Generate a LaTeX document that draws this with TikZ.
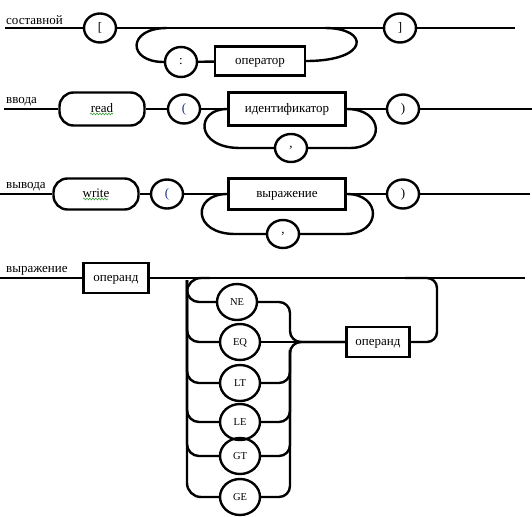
\documentclass[tikz,border=0pt]{standalone}
\usepackage{fontspec}
\setmainfont{Liberation Serif}
\usetikzlibrary{decorations.pathmorphing,shapes.geometric}
\definecolor{brk}{RGB}{25,45,130}
\definecolor{spell}{RGB}{60,160,60}
\begin{document}
\begin{tikzpicture}[x=1pt,y=-1pt,
  rail/.style={line width=2.4pt},
  lbl/.style={font=\fontsize{13}{15}\selectfont, inner sep=1pt, anchor=south west},
  term/.style={draw, line width=2.4pt, ellipse, minimum width=32pt, minimum height=29pt, inner sep=0pt, font=\fontsize{13}{15}\selectfont},
  opterm/.style={draw, line width=2.4pt, ellipse, minimum width=40pt, minimum height=36pt, inner sep=0pt, text height=7pt, text depth=0pt, font=\fontsize{10.5}{12}\selectfont},
  nterm/.style={draw, line width=2.4pt, rectangle, inner sep=0pt, text height=6.5pt, text depth=0pt, font=\fontsize{13}{15}\selectfont},
  kw/.style={draw, line width=2.4pt, rectangle, rounded corners=14pt, inner sep=0pt, text height=6.5pt, text depth=0pt, font=\fontsize{13}{15}\selectfont},
  squig/.style={spell, line width=0.6pt, decorate, decoration={snake, amplitude=0.9pt, segment length=3pt}}
]
\useasboundingbox (0,0) rectangle (532,516);
% ---------- row 1: составной
\node[lbl] (l1) at (5,26) {составной};
\coordinate (s1) at (5,28);
\node[term] (lb) at (100,28) {[};
\node[term] (rb) at (400,28) {]};
\coordinate (e1) at (515,28);
\node[term, minimum height=30pt] (colon) at (181,62) {:};
\node[nterm, minimum width=90pt, minimum height=29pt] (op1) at (260,61) {оператор};
\draw[rail] (s1) -- (lb) -- (rb) -- (e1);
\draw[rail] (colon) -- (op1);
\draw[rail] (167,28) .. controls (127,28) and (127,62) .. (colon.west);
\draw[rail] (op1.east) .. controls (370,61) and (370,28) .. (325,28);
% ---------- row 2: ввода
\node[lbl] (l2) at (5,107) {ввода};
\coordinate (s2) at (4,109);
\node[kw, minimum width=85pt, minimum height=33pt] (read) at (102,109) {read};
\draw[squig] (90,114) -- (113,114);
\node[term, text=brk] (lp2) at (184,109) {(};
\node[nterm, minimum width=117pt, minimum height=33pt] (id) at (287,109) {идентификатор};
\node[term, minimum height=28pt] (cm2) at (291,148) {,};
\node[term] (rp2) at (403,109) {)};
\coordinate (e2) at (532,109);
\draw[rail] (s2) -- (read) -- (lp2) -- (id) -- (rp2) -- (e2);
\draw[rail] (id.west) .. controls (195,109) and (195,148) .. (240,148) -- (cm2.west);
\draw[rail] (id.east) .. controls (385,109) and (385,148) .. (350,148) -- (cm2.east);
% ---------- row 3: вывода
\node[lbl] (l3) at (5,192) {вывода};
\coordinate (s3) at (0,194);
\node[kw, minimum width=85pt, minimum height=31pt] (write) at (96,194) {write};
\draw[squig] (83,199) -- (108,199);
\node[term, text=brk] (lp3) at (167,194) {(};
\node[nterm, minimum width=117pt, minimum height=31pt] (expr) at (287,194) {выражение};
\node[term, minimum height=28pt] (cm3) at (283,234) {,};
\node[term] (rp3) at (403,194) {)};
\coordinate (e3) at (530,194);
\draw[rail] (s3) -- (write) -- (lp3) -- (expr) -- (rp3) -- (e3);
\draw[rail] (expr.west) .. controls (192,194) and (192,234) .. (235,234) -- (cm3.west);
\draw[rail] (expr.east) .. controls (382,194) and (382,234) .. (345,234) -- (cm3.east);
% ---------- row 4: выражение
\node[lbl] (l4) at (5,276) {выражение};
\coordinate (s4) at (0,278);
\node[nterm, minimum width=65pt, minimum height=30pt] (opd1) at (116,278) {операнд};
\coordinate (e4) at (525,278);
\draw[rail] (s4) -- (opd1) -- (e4);
\node[nterm, minimum width=63pt, minimum height=30pt] (opd2) at (378,342) {операнд};
\node[opterm] (NE) at (237,302) {NE};
\node[opterm] (EQ) at (240,342) {EQ};
\node[opterm] (LT) at (240,383) {LT};
\node[opterm] (LE) at (240,422) {LE};
\node[opterm] (GT) at (240,456) {GT};
\node[opterm] (GE) at (240,497) {GE};
% left rail
\draw[rail, rounded corners=14pt] (210,278) -| (187,497) -- (GE.west);
\foreach \n in {NE,EQ,LT,LE,GT}{
  \draw[rail, rounded corners=12pt] (187,280) |- (\n.west);
}
% right side
\draw[rail] (EQ.east) -- (opd2.west);
\draw[rail, rounded corners=11pt] (NE.east) -| (290,342) -- (opd2.west);
\draw[rail, rounded corners=11pt] (GE.east) -| (290,342) -- (opd2.west);
\foreach \n in {LT,LE,GT}{
  \draw[rail, rounded corners=11pt] (\n.east) -| (290,350);
}
% bypass back to main line
\draw[rail, rounded corners=10pt] (opd2.east) -| (437,278) -- (405,278);
\end{tikzpicture}
\end{document}
